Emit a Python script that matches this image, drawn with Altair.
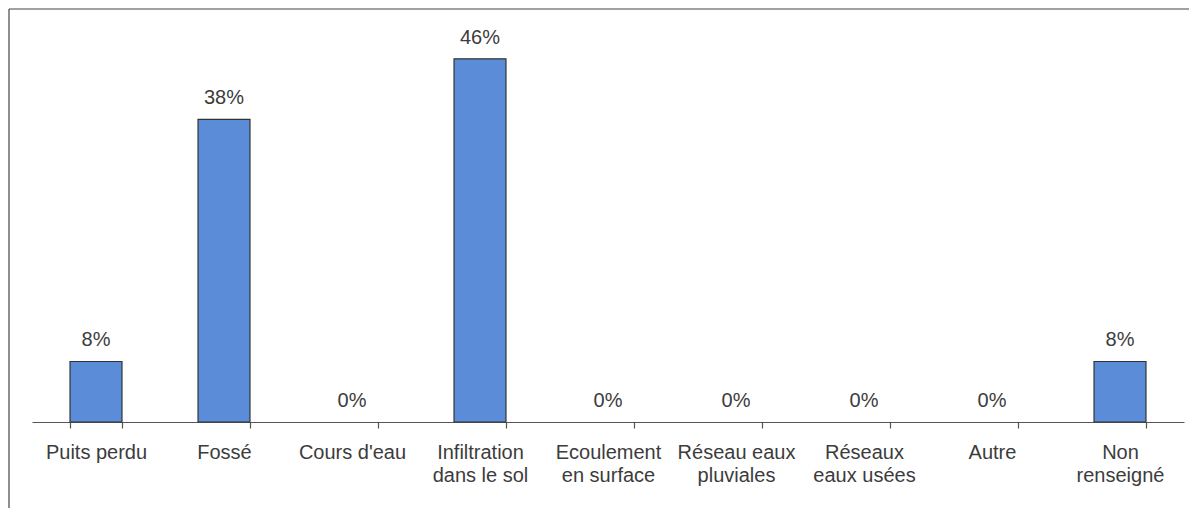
import altair as alt
import pandas as pd

categories = [
    "Puits perdu", "Fossé", "Cours d'eau", "Infiltration\ndans le sol",
    "Ecoulement\nen surface", "Réseau eaux\npluviales", "Réseaux\neaux usées",
    "Autre", "Non\nrenseigné",
]
values = [7.7, 38.5, 0, 46.2, 0, 0, 0, 0, 7.7]
value_labels = ["8%", "38%", "0%", "46%", "0%", "0%", "0%", "0%", "8%"]

df = pd.DataFrame({"cat": categories, "val": values, "lab": value_labels})

W, H = 1152, 393
x = alt.X(
    "cat:N", sort=categories, title=None,
    scale=alt.Scale(paddingInner=0.594, paddingOuter=0.297),
    axis=alt.Axis(
        labelAngle=0, labelExpr="split(datum.label, '\\n')",
        labelFont="Liberation Sans", labelFontSize=20, labelColor="#3c3c3c",
        labelLineHeight=23, labelPadding=14, labelBaseline="top",
        tickBand="extent", tickSize=6, tickColor="#555555", domainColor="#555555",
        domainWidth=1.2, tickWidth=1.2, grid=False,
    ),
)
y = alt.Y("val:Q", scale=alt.Scale(domain=[0, 50], nice=False), axis=None)

bars = alt.Chart(df).transform_filter("datum.val > 0").mark_bar(
    color="#5b8cd8", stroke="#333333", strokeWidth=1.2
).encode(x=x, y=y)
text = alt.Chart(df).mark_text(
    baseline="alphabetic", dy=-15, font="Liberation Sans", fontSize=20, color="#3c3c3c"
).encode(x=x, y=y, text="lab:N")

frame_top = alt.Chart(df.head(1)).mark_rule(color="#444444", strokeWidth=1.2).encode(
    x=alt.value(-23), x2=alt.value(1160), y=alt.value(-20)
)
frame_left = alt.Chart(df.head(1)).mark_rule(color="#444444", strokeWidth=1.2).encode(
    x=alt.value(-23), y=alt.value(-20), y2=alt.value(490)
)

chart = alt.layer(bars, text, frame_top, frame_left).properties(
    width=W, height=H,
    background="white",
    autosize=alt.AutoSizeParams(type="none"),
    padding={"left": 24, "top": 21, "right": 5, "bottom": 86},
).configure_view(stroke=None, strokeWidth=0)

chart.save("out.html", embed_options={"renderer": "svg", "actions": False})
